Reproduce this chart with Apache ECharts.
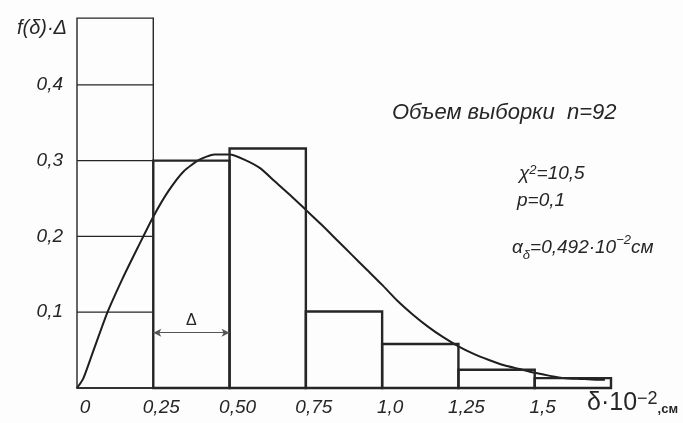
<!DOCTYPE html>
<html>
<head>
<meta charset="utf-8">
<script src="https://cdn.jsdelivr.net/npm/echarts@6/dist/echarts.min.js"></script>
<style>html,body{margin:0;padding:0;background:#fdfdfd}#chart{width:683px;height:423px}</style>
</head>
<body>
<div id="chart"></div>
<script>
// ---- data ----
const binStart  = [0, 0.25, 0.5, 0.75, 1.0, 1.25, 1.5];
const binEnd    = [0.25, 0.5, 0.75, 1.0, 1.25, 1.5, 1.75];
const binHeight = [0.488, 0.3, 0.316, 0.101, 0.058, 0.024, 0.013];
const scaleLevels = [0.1, 0.2, 0.3, 0.4];
const curveX = [0, 0.02, 0.05, 0.1, 0.15, 0.2, 0.25, 0.3, 0.35, 0.4, 0.45, 0.5, 0.55, 0.6, 0.65, 0.7, 0.75, 0.8, 0.85, 0.9, 0.95, 1.0, 1.05, 1.1, 1.15, 1.2, 1.25, 1.3, 1.35, 1.4, 1.45, 1.5, 1.55, 1.6, 1.65, 1.7, 1.73];
const curveY = [0, 0.012, 0.045, 0.1, 0.145, 0.186, 0.226, 0.26, 0.286, 0.301, 0.308, 0.308, 0.301, 0.29, 0.272, 0.254, 0.235, 0.216, 0.196, 0.176, 0.156, 0.136, 0.115, 0.097, 0.081, 0.067, 0.055, 0.045, 0.037, 0.030, 0.025, 0.020, 0.016, 0.013, 0.012, 0.011, 0.011];
const xTickLabels = ['0', '0,25', '0,50', '0,75', '1,0', '1,25', '1,5', ''];
const yTickLabels = ['', '0,1', '0,2', '0,3', '0,4', ''];
const deltaArrow = [0.25, 0.5, 0.073];
const yName = 'f(δ)·Δ';
const xName = ['δ·10', '−2', ',см'];
const noteTitle = 'Объем выборки  n=92';
const noteChi = ['χ', '2', '=10,5'];
const noteP = 'p=0,1';
const noteAlpha = ['α', 'δ', '=0,492·10', '−2', 'см'];

// ---- chart ----
const INK = '#262626';
const FONT = 'Liberation Sans';
const chart = echarts.init(document.getElementById('chart'));

const barData = binStart.map((s, i) => [s, binEnd[i], binHeight[i], i]);

chart.setOption({
  backgroundColor: '#fdfdfd',
  animation: false,
  grid: { left: 77, right: 72, top: 9, bottom: 35 },
  xAxis: {
    type: 'value', min: 0, max: 1.75, interval: 0.25,
    axisLine: { show: true, lineStyle: { color: INK, width: 1.5 } },
    axisTick: { show: false },
    splitLine: { show: false },
    axisLabel: {
      color: INK, fontFamily: FONT, fontStyle: 'italic', fontSize: 19, margin: 10,
      showMaxLabel: true, padding: [0, 0, 0, 16],
      formatter: (v) => xTickLabels[Math.round(v / 0.25)]
    },
    name: '{m|' + xName[0] + '}{sup|' + xName[1] + '}{sub|' + xName[2] + '}',
    nameLocation: 'end', nameGap: -24,
    nameTextStyle: {
      padding: [30, 0, 0, 0],
      rich: {
        m: { fontFamily: FONT, fontSize: 25, color: INK, verticalAlign: 'middle' },
        sup: { fontFamily: FONT, fontSize: 18, color: INK, verticalAlign: 'top' },
        sub: { fontFamily: FONT, fontSize: 13, color: INK, verticalAlign: 'bottom', fontWeight: 'bold' }
      }
    }
  },
  yAxis: {
    type: 'value', min: 0, max: 0.5, interval: 0.1,
    axisLine: { show: false }, axisTick: { show: false }, splitLine: { show: false },
    axisLabel: {
      color: INK, fontFamily: FONT, fontStyle: 'italic', fontSize: 19, margin: 14,
      formatter: (v) => yTickLabels[Math.round(v / 0.1)]
    },
    name: yName, nameLocation: 'end', nameGap: -19,
    nameTextStyle: { color: INK, fontFamily: FONT, fontStyle: 'italic', fontSize: 20, align: 'right', verticalAlign: 'middle', padding: [0, 10, 0, 0] }
  },
  graphic: [
    { type: 'text', left: 392, top: 102, style: { text: noteTitle, font: 'italic 22px "Liberation Sans"', fill: INK } },
    { type: 'text', left: 519, top: 164, style: {
        text: '{a|' + noteChi[0] + '}{s|' + noteChi[1] + '}{a|' + noteChi[2] + '}',
        rich: { a: { font: 'italic 19px "Liberation Sans"', fill: INK, verticalAlign: 'bottom' },
                s: { font: 'italic 13px "Liberation Sans"', fill: INK, verticalAlign: 'top' } } } },
    { type: 'text', left: 517, top: 191, style: { text: noteP, font: 'italic 19px "Liberation Sans"', fill: INK } },
    { type: 'text', left: 512, top: 234, style: {
        text: '{a|' + noteAlpha[0] + '}{b|' + noteAlpha[1] + '}{a|' + noteAlpha[2] + '}{s|' + noteAlpha[3] + '}{a|' + noteAlpha[4] + '}',
        rich: { a: { font: 'italic 19px "Liberation Sans"', fill: INK, verticalAlign: 'middle', lineHeight: 28 },
                b: { font: 'italic 13px "Liberation Sans"', fill: INK, verticalAlign: 'bottom', lineHeight: 28 },
                s: { font: 'italic 13px "Liberation Sans"', fill: INK, verticalAlign: 'top', lineHeight: 28 } } } }
  ],
  series: [
    {
      type: 'custom', name: 'scale', silent: true,
      data: scaleLevels.map(v => [v]),
      encode: { y: 0 },
      renderItem: (params, api) => {
        const v = api.value(0);
        const a = api.coord([binStart[0], v]);
        const b = api.coord([binEnd[0], v]);
        return { type: 'line', shape: { x1: a[0], y1: a[1], x2: b[0], y2: b[1] }, style: { stroke: INK, lineWidth: 1.2 } };
      },
      z: 1
    },
    {
      type: 'line', name: 'curve', silent: true,
      data: curveX.map((x, i) => [x, curveY[i]]),
      smooth: 0.2, showSymbol: false, symbol: 'none',
      lineStyle: { color: '#1e1e1e', width: 2 },
      markLine: {
        silent: true, symbol: ['arrow', 'arrow'], symbolSize: [6, 8],
        lineStyle: { color: '#555', width: 1, type: 'solid' },
        label: { show: true, position: 'middle', formatter: 'Δ', color: INK, fontFamily: FONT, fontSize: 16, distance: 4 },
        data: [[{ coord: [deltaArrow[0], deltaArrow[2]] }, { coord: [deltaArrow[1], deltaArrow[2]] }]]
      },
      z: 2
    },
    {
      type: 'custom', name: 'hist', silent: true,
      data: barData,
      encode: { x: [0, 1], y: 2 },
      renderItem: (params, api) => {
        const x0 = api.value(0), x1 = api.value(1), h = api.value(2), idx = api.value(3);
        const p0 = api.coord([x0, h]);
        const p1 = api.coord([x1, 0]);
        return {
          type: 'rect',
          shape: { x: p0[0], y: p0[1], width: p1[0] - p0[0], height: p1[1] - p0[1] },
          style: { fill: 'none', stroke: INK, lineWidth: idx === 0 ? 1.4 : 2.4 },
          z2: idx === 0 ? 0 : 10
        };
      },
      z: 3
    }
  ]
});
</script>
</body>
</html>
